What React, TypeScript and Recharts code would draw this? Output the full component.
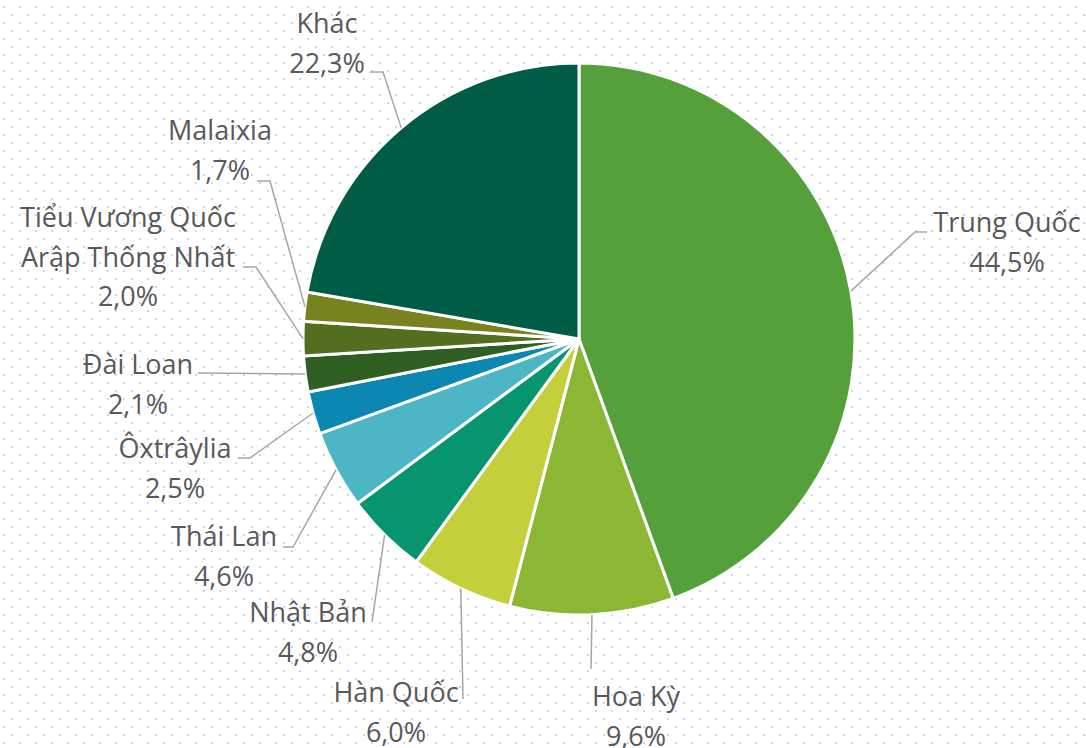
import React from 'react';
import { PieChart, Pie, Cell } from 'recharts';

const categories = [
  'Trung Quốc',
  'Hoa Kỳ',
  'Hàn Quốc',
  'Nhật Bản',
  'Thái Lan',
  'Ôxtrâylia',
  'Đài Loan',
  'Tiểu Vương Quốc\nArập Thống Nhất',
  'Malaixia',
  'Khác',
];
const shares = [44.5, 9.6, 6.0, 4.8, 4.6, 2.5, 2.1, 2.0, 1.7, 22.3];
const sliceColors = [
  '#55a03b',
  '#8bb735',
  '#c3d03c',
  '#06956f',
  '#4cb6c5',
  '#0b87b2',
  '#2f5e23',
  '#546e1f',
  '#78821f',
  '#005c46',
];

// Label layout relative to the pie centre: text centre / first baseline, optional elbow, line end
type LabelLayout = { tx: number; ty: number; elbow?: [number, number]; end: [number, number] };
const labelLayout: LabelLayout[] = [
  { tx: 428, ty: -107, elbow: [336, -107], end: [348, -107] },
  { tx: 57, ty: 367, end: [12, 330] },
  { tx: -183, ty: 363, end: [-116, 360] },
  { tx: -271, ty: 283, end: [-207, 283] },
  { tx: -355, ty: 207, elbow: [-286, 208], end: [-296, 208] },
  { tx: -404, ty: 119, elbow: [-329, 119], end: [-341, 119] },
  { tx: -441, ty: 35, end: [-381, 34] },
  { tx: -451, ty: -112, elbow: [-323, -72], end: [-336, -72] },
  { tx: -359, ty: -199, elbow: [-309, -158], end: [-322, -158] },
  { tx: -252, ty: -306, elbow: [-196, -267], end: [-209, -267] },
];

const data = categories.map((name, i) => ({ name, value: shares[i] }));

const RAD = Math.PI / 180;
const LINE_H = 39.5;

const renderLabel = (props: any) => {
  const { cx, cy, midAngle, outerRadius, index, value, name } = props;
  const lay = labelLayout[index];
  const sx = cx + outerRadius * Math.cos(-midAngle * RAD);
  const sy = cy + outerRadius * Math.sin(-midAngle * RAD);
  const pts: [number, number][] = [[sx, sy]];
  if (lay.elbow) pts.push([cx + lay.elbow[0], cy + lay.elbow[1]]);
  pts.push([cx + lay.end[0], cy + lay.end[1]]);
  const lines = String(name).split('\n').concat([value.toFixed(1).replace('.', ',') + '%']);
  return (
    <g key={`lbl-${index}`}>
      <polyline
        points={pts.map((p) => p.join(',')).join(' ')}
        fill="none"
        stroke="#a6a6a6"
        strokeWidth={1.5}
      />
      <text
        x={cx + lay.tx}
        y={cy + lay.ty}
        textAnchor="middle"
        fill="#595959"
        fontSize={27}
        fontFamily="'Open Sans', sans-serif"
      >
        {lines.map((l, i) => (
          <tspan key={i} x={cx + lay.tx} y={cy + lay.ty + i * LINE_H}>
            {l}
          </tspan>
        ))}
      </text>
    </g>
  );
};

const dotSvg =
  "data:image/svg+xml,%3Csvg xmlns='http://www.w3.org/2000/svg' width='16' height='16'%3E%3Crect x='3' y='6' width='2' height='2' fill='%23c8d6f4'/%3E%3Crect x='11' y='14' width='2' height='2' fill='%23c8d6f4'/%3E%3C/svg%3E";

export default function App() {
  return (
    <div
      style={{
        position: 'absolute',
        left: 0,
        top: 0,
        width: 1086,
        height: 748,
        background: `#ffffff url("${dotSvg}") 0 0 / 16px 16px repeat`,
        overflow: 'hidden',
      }}
    >
      <PieChart width={1086} height={748} margin={{ top: 0, right: 0, bottom: 0, left: 0 }}>
        <Pie
          data={data}
          dataKey="value"
          nameKey="name"
          cx={579}
          cy={339}
          outerRadius={276}
          startAngle={90}
          endAngle={-270}
          stroke="#ffffff"
          strokeWidth={3}
          labelLine={false}
          label={renderLabel}
          isAnimationActive={false}
        >
          {data.map((d, i) => (
            <Cell key={d.name} fill={sliceColors[i]} />
          ))}
        </Pie>
      </PieChart>
    </div>
  );
}
